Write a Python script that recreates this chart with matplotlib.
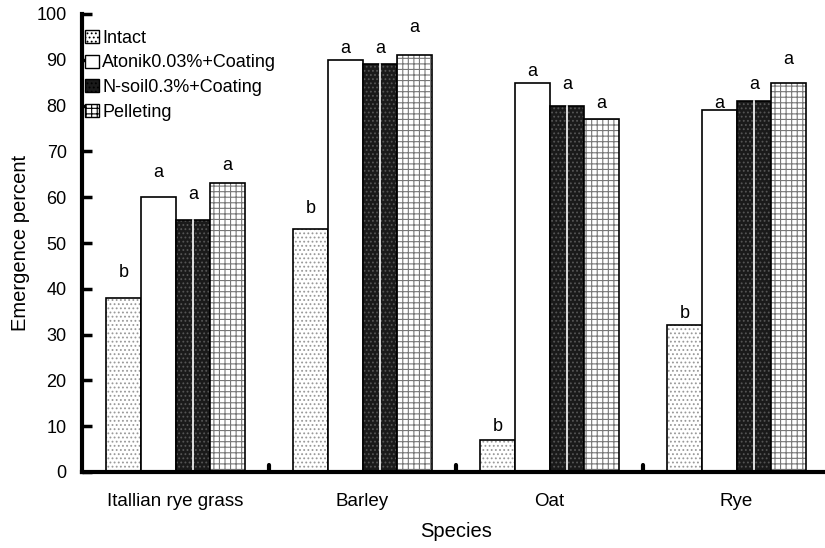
import numpy as np
import matplotlib.pyplot as plt

species = ["Itallian rye grass", "Barley", "Oat", "Rye"]
treatments = ["Intact", "Atonik0.03%+Coating", "N-soil0.3%+Coating", "Pelleting"]
intact = [38, 53, 7, 32]
atonik = [60, 90, 85, 79]
nsoil = [55, 89, 80, 81]
pellet = [63, 91, 77, 85]
letters = ["b", "a", "a", "a"]
# heights of the significance letters, per species (intact, atonik, n-soil, pelleting)
letter_y = [[43.5, 65.5, 60.5, 67],
            [57.5, 92.5, 92.5, 97],
            [10, 87.5, 84.5, 80.5],
            [34.5, 80.5, 84.5, 90]]

series = [intact, atonik, nsoil, pellet]
styles = [
    dict(facecolor="white", edgecolor="#999999", hatch="...."),
    dict(facecolor="white", edgecolor="black", hatch=""),
    dict(facecolor="#1a1a1a", edgecolor="#555555", hatch="...."),
    dict(facecolor="white", edgecolor="#777777", hatch="+++"),
]

plt.rcParams["font.family"] = ["Liberation Sans", "DejaVu Sans"]
plt.rcParams["hatch.linewidth"] = 0.8

fig = plt.figure(figsize=(8.25, 5.48), dpi=100)
ax = fig.add_axes([82 / 825, 1 - 472 / 548, 748 / 825, 458 / 548])

x = np.arange(len(species))
w = 0.185
for i, (vals, st) in enumerate(zip(series, styles)):
    pos = x + (i - 1.5) * w
    ax.bar(pos, vals, w, label=treatments[i], linewidth=0, **st)
    ax.bar(pos, vals, w, facecolor="none", edgecolor="black", linewidth=1.2)
    if i == 2:
        for p, v in zip(pos, vals):
            ax.plot([p, p], [0, v], color="white", lw=1.2)
    for j, p in enumerate(pos):
        ax.text(p, letter_y[j][i], letters[i], ha="center", va="center", fontsize=13)

ax.set_xlim(-0.5, 3.5)
ax.set_ylim(0, 100)
ax.set_yticks(range(0, 101, 10))
ax.set_xticks(x)
ax.set_xticklabels(species, fontsize=13.5)
ax.tick_params(axis="y", direction="in", length=7, width=2.5, labelsize=13, pad=11)
ax.tick_params(axis="x", length=0, pad=15)
for b in [0.5, 1.5, 2.5]:
    ax.plot([b, b], [0, 1.5], color="black", lw=3, solid_capstyle="round", clip_on=False)

for s in ["top", "right"]:
    ax.spines[s].set_visible(False)
ax.spines["left"].set_linewidth(3)
ax.spines["bottom"].set_linewidth(3)

ax.set_ylabel("Emergence percent", fontsize=14.5, labelpad=5)
ax.set_xlabel("Species", fontsize=14.5, labelpad=9)

leg = ax.legend(loc="upper left", bbox_to_anchor=(-0.008, 0.985), frameon=False, fontsize=13,
                handlelength=0.75, handleheight=0.75, handletextpad=0.2, labelspacing=0.42,
                borderaxespad=0.1)
for h in leg.legend_handles:
    h.set_edgecolor("black")
    h.set_linewidth(1)

fig.savefig("out.png", dpi=100)
